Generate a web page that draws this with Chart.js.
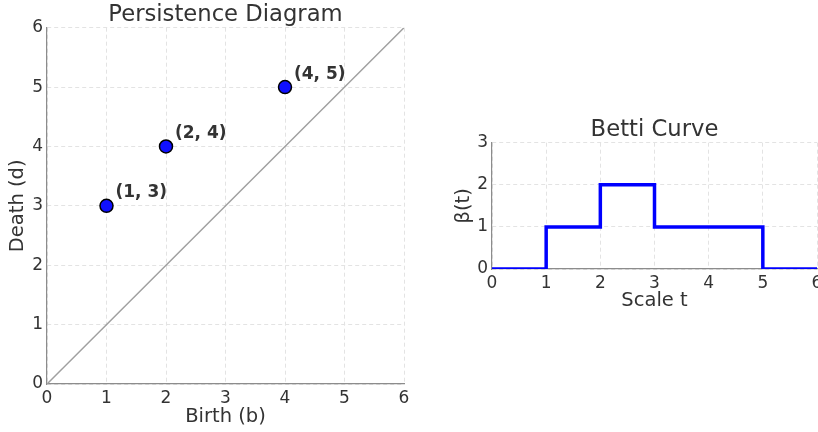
<!DOCTYPE html>
<html lang="en">
<head>
<meta charset="UTF-8">
<title>Persistence Diagram and Betti Curve</title>
<script src="https://cdn.jsdelivr.net/npm/chart.js"></script>
<style>
  body { margin: 0; background: #fff; width: 818px; height: 432px; position: relative; overflow: hidden; }
  canvas { position: absolute; top: 0; }
  #pd { left: 0; }
  #betti { left: 430px; }
</style>
</head>
<body>
<canvas id="pd" width="420" height="432"></canvas>
<canvas id="betti" width="388" height="432"></canvas>

<script>
// persistence pairs
const births = [1, 2, 4];
const deaths = [3, 4, 5];
const diagonal = [0, 6];

// betti curve (value holds from t until next t)
const bettiT = [0, 1, 2, 3, 5, 6];
const bettiValues = [0, 1, 2, 1, 0, 0];

const textColor = '#333333';
const gridColor = '#e3e3e3';
const spineColor = '#8c8c8c';
Chart.defaults.font.family = "'DejaVu Sans', sans-serif";
Chart.defaults.color = textColor;

function axis(min, max, title, padding, fixed, isX) {
    return {
        type: 'linear',
        min: min, max: max,
        ticks: { stepSize: 1, padding: 4, color: textColor, font: { size: 17 } },
        grid: { color: gridColor, drawTicks: false },
        // in v4 border.dash dashes the grid lines, the spine stays solid
        border: { display: true, color: spineColor, width: 1.2, dash: [4, 3] },
        title: { display: true, text: title, color: textColor, font: { size: 19.5 }, padding: padding },
        afterFit: function (scale) {
            if (isX) scale.height = fixed; else scale.width = fixed;
            scale.paddingLeft = 0;
            scale.paddingRight = 0;
            scale.paddingTop = 0;
            scale.paddingBottom = 0;
        }
    };
}

const pairLabels = {
    id: 'pairLabels',
    afterDatasetsDraw(chart) {
        const meta = chart.getDatasetMeta(1);
        const ctx = chart.ctx;
        ctx.save();
        ctx.font = "bold 17px 'DejaVu Sans'";
        ctx.fillStyle = textColor;
        ctx.textAlign = 'left';
        ctx.textBaseline = 'middle';
        meta.data.forEach((pt, i) => {
            ctx.fillText('(' + births[i] + ', ' + deaths[i] + ')', pt.x + 9, pt.y - 13);
        });
        ctx.restore();
    }
};

function titleOpts(text) {
    return {
        display: true, text: text, color: textColor, fullSize: false,
        font: { size: 22.7, weight: 'normal', lineHeight: 1 },
        padding: { top: 4, bottom: 1 }
    };
}

new Chart(document.getElementById('pd'), {
    type: 'scatter',
    data: {
        datasets: [
            {
                data: diagonal.map(v => ({ x: v, y: v })),
                showLine: true,
                borderColor: '#a0a0a0',
                borderWidth: 1.5,
                pointRadius: 0
            },
            {
                data: births.map((b, i) => ({ x: b, y: deaths[i] })),
                backgroundColor: '#1010ff',
                borderColor: '#000000',
                borderWidth: 1.5,
                pointRadius: 6.5
            }
        ]
    },
    options: {
        responsive: false,
        animation: false,
        layout: { padding: { top: 0, right: 16, left: 0, bottom: 0 } },
        plugins: {
            legend: { display: false },
            tooltip: { enabled: false },
            title: titleOpts('Persistence Diagram')
        },
        scales: {
            x: axis(0, 6, 'Birth (b)', { bottom: 3, top: 0 }, 48, true),
            y: axis(0, 6, 'Death (d)', { top: 6, bottom: 0 }, 47, false)
        }
    },
    plugins: [pairLabels]
});

new Chart(document.getElementById('betti'), {
    type: 'scatter',
    data: {
        datasets: [{
            data: bettiT.map((t, i) => ({ x: t, y: bettiValues[i] })),
            showLine: true,
            stepped: 'before',
            borderColor: '#0000ff',
            borderWidth: 3.5,
            pointRadius: 0
        }]
    },
    options: {
        responsive: false,
        animation: false,
        layout: { padding: { top: 115, right: 1, left: 0, bottom: 115 } },
        plugins: {
            legend: { display: false },
            tooltip: { enabled: false },
            title: titleOpts('Betti Curve')
        },
        scales: {
            x: axis(0, 6, 'Scale t', { bottom: 4, top: 0 }, 48, true),
            y: axis(0, 3, 'β(t)', { top: 22, bottom: 0 }, 62, false)
        }
    }
});
</script>
</body>
</html>
